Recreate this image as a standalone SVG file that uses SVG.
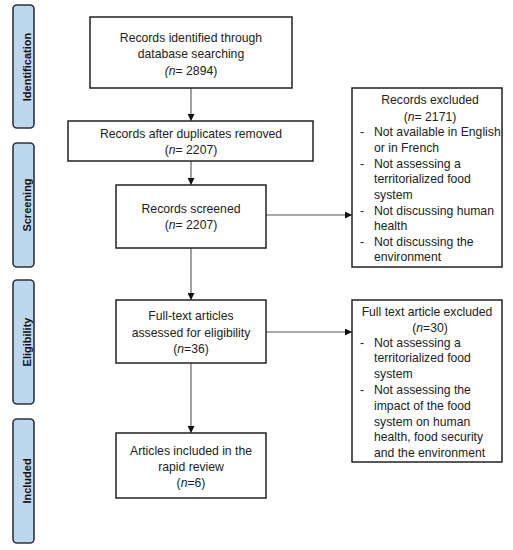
<svg xmlns="http://www.w3.org/2000/svg" width="513" height="550" viewBox="0 0 513 550">
<defs>
<style>
.bar{fill:#bdd7ee;stroke:#2b3340;stroke-width:1.6}
.box{fill:#fff;stroke:#222;stroke-width:1.5}
.t{font-family:"Liberation Sans",Arial,sans-serif;font-size:12.2px;fill:#222}
.c{text-anchor:middle}
.lbl{font-family:"Liberation Sans",Arial,sans-serif;font-size:11px;font-weight:bold;fill:#111;text-anchor:middle}
.con{stroke:#555;stroke-width:1.1;fill:none;marker-end:url(#ah)}
</style>
<marker id="ah" viewBox="0 0 10 10" refX="10" refY="5" markerWidth="7" markerHeight="7" orient="auto" markerUnits="userSpaceOnUse">
<path d="M0,0 L10,5 L0,10 z" fill="#111"/>
</marker>
</defs>
<rect width="513" height="550" fill="#fff"/>
<g id="stage-identification"><rect class="bar" x="13" y="5" width="21" height="123" rx="4"/><text class="lbl" transform="translate(30.5,67) rotate(-90)">Identification</text></g>
<g id="stage-screening"><rect class="bar" x="13" y="143" width="21" height="124" rx="4"/><text class="lbl" transform="translate(30.5,205) rotate(-90)">Screening</text></g>
<g id="stage-eligibility"><rect class="bar" x="13" y="280" width="21" height="124" rx="4"/><text class="lbl" transform="translate(30.5,342) rotate(-90)">Eligibility</text></g>
<g id="stage-included"><rect class="bar" x="13" y="419" width="21" height="124" rx="4"/><text class="lbl" transform="translate(30.5,481) rotate(-90)">Included</text></g>

<g id="connectors">
<line class="con" x1="191" y1="88" x2="191" y2="121"/>
<line class="con" x1="191" y1="161" x2="191" y2="185"/>
<line class="con" x1="191" y1="248" x2="191" y2="300"/>
<line class="con" x1="191" y1="363" x2="191" y2="433"/>
<line class="con" x1="266" y1="215" x2="352" y2="215"/>
<line class="con" x1="266" y1="332" x2="352" y2="332"/>
</g>

<g id="n1"><rect class="box" x="90" y="17" width="202" height="71"/>
<text class="t c" x="191" y="42">Records identified through</text>
<text class="t c" x="191" y="58">database searching</text>
<text class="t c" x="191" y="75"><tspan font-style="italic">(n</tspan>= 2894)</text></g>

<g id="n2"><rect class="box" x="68" y="121" width="245" height="40"/>
<text class="t c" x="191" y="138">Records after duplicates removed</text>
<text class="t c" x="191" y="154">(<tspan font-style="italic">n</tspan>= 2207)</text></g>

<g id="n3"><rect class="box" x="116" y="185" width="150" height="63"/>
<text class="t c" x="191" y="213">Records screened</text>
<text class="t c" x="191" y="229">(<tspan font-style="italic">n</tspan>= 2207)</text></g>

<g id="n4"><rect class="box" x="116" y="300" width="150" height="63"/>
<text class="t c" x="191" y="320">Full-text articles</text>
<text class="t c" x="191" y="337">assessed for eligibility</text>
<text class="t c" x="191" y="353">(<tspan font-style="italic">n</tspan>=36)</text></g>

<g id="n5"><rect class="box" x="116" y="433" width="150" height="65"/>
<text class="t c" x="191" y="455">Articles included in the</text>
<text class="t c" x="191" y="471">rapid review</text>
<text class="t c" x="191" y="487">(<tspan font-style="italic">n</tspan>=6)</text></g>

<g id="x1"><rect class="box" x="352" y="88" width="150" height="179"/>
<text class="t c" x="430" y="104">Records excluded</text>
<text class="t c" x="430" y="121">(<tspan font-style="italic">n</tspan>= 2171)</text>
<text class="t" x="360" y="136">-</text><text class="t" x="374" y="136">Not available in English</text>
<text class="t" x="374" y="152">or in French</text>
<text class="t" x="360" y="168">-</text><text class="t" x="374" y="168">Not assessing a</text>
<text class="t" x="374" y="183">territorialized food</text>
<text class="t" x="374" y="199">system</text>
<text class="t" x="360" y="215">-</text><text class="t" x="374" y="215">Not discussing human</text>
<text class="t" x="374" y="230">health</text>
<text class="t" x="360" y="246">-</text><text class="t" x="374" y="246">Not discussing the</text>
<text class="t" x="374" y="261">environment</text></g>

<g id="x2"><rect class="box" x="352" y="300" width="150" height="162"/>
<text class="t c" x="427" y="316">Full text article excluded</text>
<text class="t c" x="430" y="332">(<tspan font-style="italic">n</tspan>=30)</text>
<text class="t" x="360" y="347">-</text><text class="t" x="374" y="347">Not assessing a</text>
<text class="t" x="374" y="362">territorialized food</text>
<text class="t" x="374" y="378">system</text>
<text class="t" x="360" y="394">-</text><text class="t" x="374" y="394">Not assessing the</text>
<text class="t" x="374" y="410">impact of the food</text>
<text class="t" x="374" y="426">system on human</text>
<text class="t" x="374" y="441">health, food security</text>
<text class="t" x="374" y="457">and the environment</text></g>
</svg>
